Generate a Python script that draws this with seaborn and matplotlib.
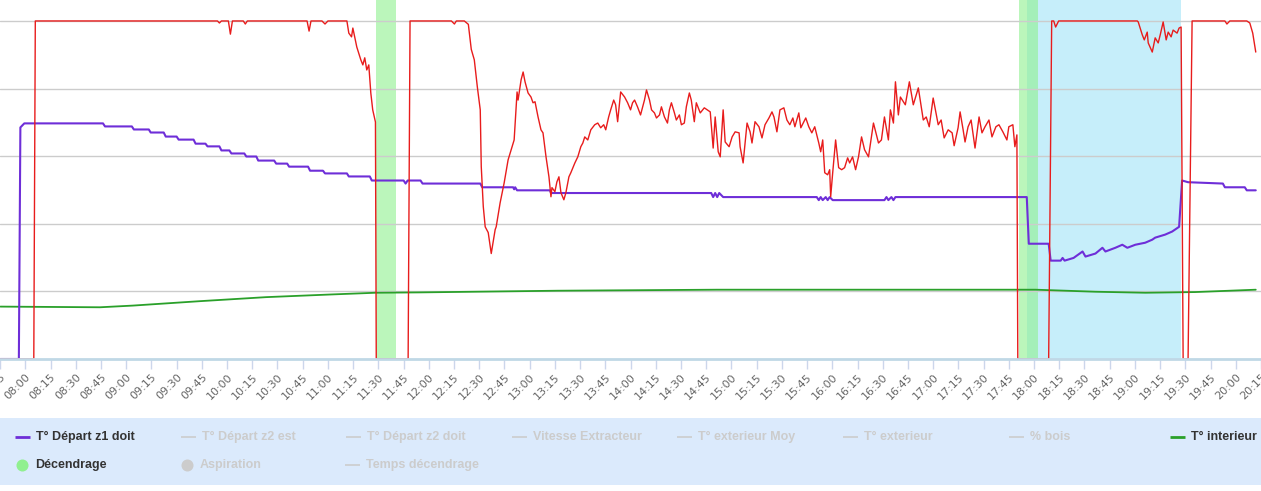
import matplotlib
matplotlib.use("Agg")
import matplotlib.pyplot as plt
import matplotlib.ticker as mticker
import seaborn as sns
import numpy as np
import pandas as pd

# heure décimale / valeur (0-100)
red_t = [7.753, 8.084, 8.099, 9.905, 9.924, 9.944, 10.013, 10.033, 10.053, 10.161, 10.181, 10.201,
         10.793, 10.813, 10.832, 10.941, 10.971, 11.000, 11.188, 11.207, 11.234, 11.247, 11.286, 11.326,
         11.346, 11.365, 11.385, 11.405, 11.425, 11.444, 11.471, 11.479, 11.795, 11.814, 12.224, 12.254,
         12.273, 12.352, 12.392, 12.421, 12.451, 12.481, 12.510, 12.520, 12.540, 12.559, 12.589, 12.619,
         12.658, 12.668, 12.707, 12.747, 12.786, 12.816, 12.846, 12.856, 12.875, 12.885, 12.915, 12.935,
         12.954, 12.984, 13.013, 13.033, 13.053, 13.083, 13.112, 13.132, 13.162, 13.191, 13.211, 13.221,
         13.250, 13.270, 13.290, 13.310, 13.339, 13.359, 13.389, 13.408, 13.448, 13.477, 13.507, 13.527,
         13.546, 13.576, 13.606, 13.645, 13.675, 13.704, 13.734, 13.754, 13.783, 13.803, 13.833, 13.852,
         13.872, 13.902, 13.941, 13.971, 14.000, 14.020, 14.040, 14.069, 14.099, 14.138, 14.158, 14.188,
         14.208, 14.237, 14.257, 14.287, 14.306, 14.336, 14.366, 14.385, 14.405, 14.435, 14.454, 14.484,
         14.504, 14.533, 14.553, 14.583, 14.602, 14.632, 14.652, 14.691, 14.731, 14.790, 14.819, 14.839,
         14.869, 14.889, 14.918, 14.938, 14.977, 15.007, 15.037, 15.076, 15.086, 15.116, 15.155, 15.185,
         15.204, 15.234, 15.273, 15.303, 15.333, 15.372, 15.402, 15.422, 15.451, 15.481, 15.520, 15.550,
         15.579, 15.609, 15.629, 15.668, 15.688, 15.718, 15.737, 15.767, 15.797, 15.826, 15.866, 15.885,
         15.905, 15.925, 15.954, 15.974, 15.984, 16.004, 16.033, 16.063, 16.093, 16.122, 16.152, 16.172,
         16.201, 16.231, 16.260, 16.290, 16.320, 16.359, 16.408, 16.458, 16.487, 16.517, 16.556, 16.576,
         16.606, 16.626, 16.655, 16.675, 16.724, 16.764, 16.803, 16.853, 16.902, 16.931, 16.961, 17.000,
         17.050, 17.079, 17.109, 17.149, 17.188, 17.208, 17.247, 17.267, 17.297, 17.316, 17.346, 17.376,
         17.415, 17.455, 17.484, 17.514, 17.553, 17.583, 17.622, 17.652, 17.691, 17.731, 17.750, 17.790,
         17.810, 17.830, 17.839, 18.145, 18.175, 18.195, 18.214, 18.244, 19.024, 19.033, 19.073, 19.093,
         19.122, 19.132, 19.172, 19.201, 19.231, 19.251, 19.280, 19.310, 19.330, 19.359, 19.379, 19.418,
         19.438, 19.458, 19.478, 19.527, 19.567, 19.892, 19.912, 19.941, 20.109, 20.139, 20.168, 20.198]
red_v = [0, 0, 100, 100, 99.4, 100, 100, 96.1, 100, 100, 99.1, 100,
         100, 97.0, 100, 100, 99.1, 100, 100, 96.4, 95.3, 97.9, 92.3, 88.5,
         87.0, 89.1, 85.5, 87.0, 78.7, 73.7, 70.1, 0, 0, 100, 100, 99.1,
         100, 100, 99.0, 91.6, 88.5, 80.5, 73.7, 56.9, 45.1, 39.1, 37.4, 31.2,
         38.3, 39.1, 46.2, 52.1, 58.9, 61.9, 64.8, 69.8, 79.0, 76.6, 82.6, 84.9,
         82.0, 78.7, 77.5, 75.8, 76.1, 71.6, 67.8, 66.9, 59.8, 53.9, 48.0, 50.7,
         49.5, 52.4, 53.9, 49.2, 47.1, 49.2, 53.9, 55.1, 58.0, 59.8, 62.8, 63.9,
         65.7, 64.8, 67.8, 69.3, 69.8, 68.4, 69.3, 67.8, 71.6, 73.7, 76.6, 75.2,
         70.2, 79.0, 77.5, 75.8, 73.7, 75.8, 76.6, 74.6, 72.2, 76.6, 79.6, 76.6,
         73.7, 72.8, 71.3, 72.2, 74.6, 71.6, 69.8, 73.7, 75.8, 72.8, 70.7, 72.2,
         69.3, 69.8, 74.6, 78.7, 76.6, 70.2, 75.8, 72.8, 74.3, 73.1, 62.4, 71.6,
         61.3, 59.8, 73.7, 64.2, 62.8, 65.7, 67.2, 66.9, 62.8, 58.0, 69.8, 67.2,
         63.9, 70.2, 68.7, 65.4, 69.3, 71.3, 73.1, 71.6, 67.2, 73.7, 74.3, 70.7,
         69.3, 71.3, 68.7, 72.8, 68.4, 70.2, 71.3, 68.7, 66.9, 68.7, 63.9, 61.3,
         64.8, 55.1, 54.5, 56.0, 48.0, 55.1, 64.8, 56.6, 56.0, 56.6, 59.5, 58.0,
         59.8, 56.0, 59.8, 65.7, 61.9, 59.8, 69.8, 63.9, 64.8, 71.6, 64.8, 73.7,
         69.8, 82.0, 72.2, 77.5, 75.2, 82.0, 75.2, 80.2, 70.7, 71.6, 68.7, 77.2,
         69.3, 70.7, 65.4, 67.8, 66.9, 63.1, 68.4, 73.1, 67.8, 64.2, 68.7, 70.7,
         62.4, 71.6, 66.9, 68.7, 70.7, 65.7, 68.7, 69.3, 67.2, 64.8, 68.7, 69.3,
         62.8, 66.3, 0, 0, 100, 100, 98.2, 100, 100, 99.7, 95.9, 94.4,
         96.7, 93.5, 90.8, 95.0, 93.5, 95.9, 99.7, 94.4, 96.7, 95.3, 97.3, 96.4,
         97.9, 98.2, 0, 0, 100, 100, 99.1, 100, 100, 99.4, 96.4, 90.8]

depart_z1_t = [7.753, 7.936, 7.951, 7.990, 8.770, 8.790, 9.056, 9.076, 9.224, 9.243, 9.372, 9.392,
               9.500, 9.520, 9.668, 9.688, 9.786, 9.806, 9.924, 9.944, 10.023, 10.043, 10.171, 10.191,
               10.290, 10.309, 10.467, 10.487, 10.596, 10.615, 10.803, 10.823, 10.951, 10.971, 11.188, 11.207,
               11.415, 11.435, 11.750, 11.770, 11.790, 11.918, 11.938, 12.510, 12.530, 12.836, 12.846, 12.856,
               12.875, 13.201, 13.211, 14.800, 14.819, 14.839, 14.859, 14.879, 14.918, 15.846, 15.866, 15.885,
               15.905, 15.935, 15.954, 15.974, 16.004, 16.517, 16.537, 16.556, 16.586, 16.606, 16.626, 17.928,
               17.948, 18.145, 18.165, 18.264, 18.283, 18.303, 18.392, 18.481, 18.510, 18.609, 18.678, 18.708,
               18.806, 18.875, 18.925, 19.004, 19.102, 19.172, 19.201, 19.300, 19.369, 19.438, 19.468, 19.527,
               19.872, 19.892, 20.089, 20.109, 20.198]
depart_z1_v = [0, 0, 68.5, 69.7, 69.7, 68.8, 68.8, 67.9, 67.9, 67.0, 67.0, 65.8,
               65.8, 64.9, 64.9, 63.7, 63.7, 62.9, 62.9, 61.7, 61.7, 60.8, 60.8, 59.9,
               59.9, 58.7, 58.7, 57.8, 57.8, 56.9, 56.9, 55.7, 55.7, 54.9, 54.9, 54.0,
               54.0, 52.8, 52.8, 51.9, 52.8, 52.8, 51.9, 51.9, 50.8, 50.8, 50.2, 50.8,
               49.9, 49.9, 49.1, 49.1, 47.9, 49.1, 47.9, 49.1, 47.9, 47.9, 47.0, 47.9,
               47.0, 47.9, 47.0, 47.9, 47.0, 47.0, 47.9, 47.0, 47.9, 47.0, 47.9, 47.9,
               34.1, 34.1, 29.1, 29.1, 29.9, 29.1, 29.9, 31.8, 30.3, 31.2, 32.9, 31.8,
               32.9, 33.8, 32.9, 33.8, 34.4, 35.3, 35.9, 36.8, 37.7, 39.1, 52.8, 52.3,
               51.9, 50.8, 50.8, 49.9, 49.9]

interieur_t = [7.753, 8.740, 9.066, 9.727, 10.388, 11.040, 11.474, 11.898, 13.280, 14.859,
               17.820, 18.017, 18.609, 19.102, 19.596, 20.198]
interieur_v = [15.5, 15.3, 15.8, 17.1, 18.3, 19.1, 19.6, 19.7, 20.2, 20.5,
               20.5, 20.5, 19.9, 19.6, 19.8, 20.5]

decendrage_debut = [11.481, 17.846]
decendrage_fin = [11.674, 18.037]
bande_bleue = (17.934, 19.458)

legend_row1 = ["T° Départ z1 doit", "T° Départ z2 est", "T° Départ z2 doit", "Vitesse Extracteur",
               "T° exterieur Moy", "T° exterieur", "% bois", "T° interieur"]
legend_row1_on = [True, False, False, False, False, False, False, True]
legend_row2 = ["Décendrage", "Aspiration", "Temps décendrage"]

PURPLE = "#6e2ed8"
RED = "#e81c1c"
GREEN = "#2aa02a"

sns.set_theme(style="white")
plt.rcParams["font.family"] = ["DejaVu Sans"]

fig = plt.figure(figsize=(12.61, 4.91), dpi=100)
ax = fig.add_axes([0, (491 - 359) / 491, 1, 359 / 491])

ax.axvspan(*bande_bleue, color="#c6eefa", lw=0, zorder=0)
for a, b in zip(decendrage_debut, decendrage_fin):
    ax.axvspan(a, b, color="#8ef08e", alpha=0.6, lw=0, zorder=0.5)

sns.lineplot(x=interieur_t, y=interieur_v, ax=ax, color=GREEN, lw=1.3, estimator=None, sort=False)
sns.lineplot(x=depart_z1_t, y=depart_z1_v, ax=ax, color=PURPLE, lw=1.5, estimator=None, sort=False)
sns.lineplot(x=red_t, y=red_v, ax=ax, color=RED, lw=1.0, estimator=None, sort=False)

ax.set_xlim(7.749, 20.198)
ax.set_ylim(0, 106.2)
ax.set_yticks([20, 40, 60, 80, 100])
ax.yaxis.grid(True, color="#cccccc", lw=1)
ax.set_axisbelow(True)
ax.tick_params(axis="y", left=False, labelleft=False)
ax.set_xticks(np.arange(7.75, 20.26, 0.25))


def hhmm(v, pos):
    h = int(round(v * 60)) // 60
    m = int(round(v * 60)) % 60
    return f"{h:02d}:{m:02d}"


ax.xaxis.set_major_formatter(mticker.FuncFormatter(hhmm))
ax.tick_params(axis="x", bottom=True, length=7, width=1, color="#ccd6eb", labelsize=8,
               labelcolor="#666666", pad=2)
for lab in ax.get_xticklabels():
    lab.set_rotation(45)
    lab.set_ha("right")
    lab.set_rotation_mode("anchor")
for s in ["top", "left", "right"]:
    ax.spines[s].set_visible(False)
ax.spines["bottom"].set_color("#c0d8e6")
ax.spines["bottom"].set_linewidth(2)
ax.set_xlabel("")
ax.set_ylabel("")

# légende
lg = fig.add_axes([0, 6 / 491, 1, 67 / 491])
lg.set_facecolor("#dbeafc")
lg.set_xlim(0, 1261)
lg.set_ylim(67, 0)
lg.set_xticks([])
lg.set_yticks([])
for s in lg.spines.values():
    s.set_visible(False)

font = dict(fontsize=9, fontweight="bold", family=["Liberation Sans", "DejaVu Sans"], va="center")
col_w = 165.6
for i, (name, on) in enumerate(zip(legend_row1, legend_row1_on)):
    x0 = 15 + i * col_w
    if i == 7:
        x0 = 1170
    lc = "#cccccc"
    if on:
        lc = PURPLE if i == 0 else GREEN
    lg.plot([x0, x0 + 15], [19, 19], color=lc, lw=2 if on else 1.2, solid_capstyle="butt")
    lg.text(x0 + 21, 19, name, color="#333333" if on else "#cccccc", **font)

lg.scatter([22], [47], s=75, color="#90f090", lw=0)
lg.text(35, 47, legend_row2[0], color="#333333", **font)
lg.scatter([187], [47], s=75, color="#cccccc", lw=0)
lg.text(200, 47, legend_row2[1], color="#cccccc", **font)
lg.plot([345, 360], [47, 47], color="#cccccc", lw=1.2, solid_capstyle="butt")
lg.text(366, 47, legend_row2[2], color="#cccccc", **font)

fig.savefig("out.png", dpi=100)
